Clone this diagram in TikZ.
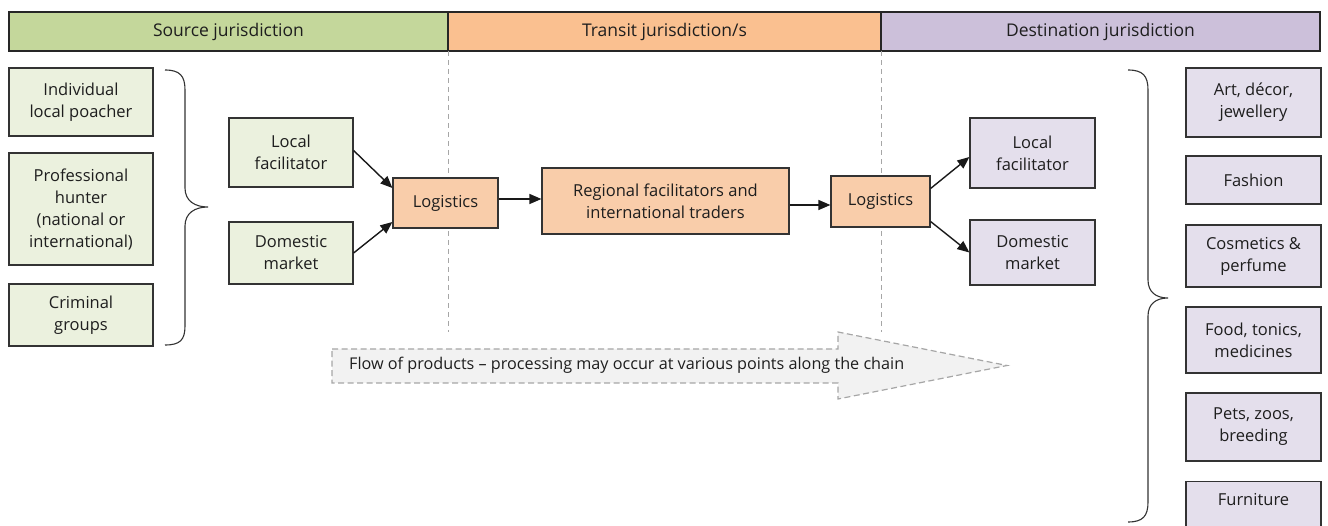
\documentclass[tikz,border=0pt]{standalone}
\usepackage{fontspec}
\setmainfont{Open Sans}
\usetikzlibrary{arrows.meta}
\definecolor{hgreen}{HTML}{C4D79B}
\definecolor{horange}{HTML}{FAC090}
\definecolor{hpurple}{HTML}{CCC0DA}
\definecolor{bgreen}{HTML}{EBF1DE}
\definecolor{borange}{HTML}{F9CDAA}
\definecolor{bpurple}{HTML}{E4DFEC}
\definecolor{txt}{HTML}{1E1E1E}
\definecolor{dashgray}{HTML}{A6A6A6}
\definecolor{flowfill}{HTML}{F2F2F2}
\tikzset{
  x=1pt, y=-1pt,
  hdr/.style={draw=black!85, line width=1.2pt, minimum height=39pt, inner sep=0pt, text=txt,
    font=\fontsize{17.5}{20}\selectfont},
  box/.style={draw=black!80, line width=1.2pt, inner sep=0pt, align=center, text=txt,
    font=\fontsize{16.5}{22}\selectfont},
  gbox/.style={box, fill=bgreen},
  obox/.style={box, fill=borange},
  pbox/.style={box, fill=bpurple},
  conn/.style={line width=1.4pt, black!90, -{Triangle[length=12pt,width=10pt]}},
  sep/.style={dashgray, line width=0.8pt, dash pattern=on 5pt off 4pt},
  brace/.style={black!80, line width=1.1pt},
}
\begin{document}
\begin{tikzpicture}
\clip (0,0) rectangle (1328,526);
\useasboundingbox (0,0) rectangle (1328,526);

% header
\node[hdr, fill=hgreen, minimum width=439pt] (hsrc) at (228.5,31.5) {Source jurisdiction};
\node[hdr, fill=horange, minimum width=433pt] (htr) at (664.5,31.5) {Transit jurisdiction/s};
\node[hdr, fill=hpurple, minimum width=439pt] (hdst) at (1100.5,31.5) {Destination jurisdiction};

% separators
\coordinate (s1top) at (448,51);
\coordinate (s1bot) at (448,332);
\coordinate (s2top) at (881,51);
\coordinate (s2bot) at (881,332);
\draw[sep] (s1top) -- (s1bot);
\draw[sep] (s2top) -- (s2bot);

% flow arrow
\draw[dashgray, fill=flowfill, line width=1.2pt, dash pattern=on 6pt off 3.5pt]
  (332,349) -- (838,349) -- (838,332) -- (1007,365.5) -- (838,399) -- (838,383) -- (332,383) -- cycle;
\node[anchor=west, text=txt, inner sep=0pt, font=\fontsize{16.2}{18}\selectfont] (flow) at (349,365.5)
  {Flow of products -- processing may occur at various points along the chain};

% source boxes
\node[gbox, minimum width=144pt, minimum height=68pt] (poach) at (81,102) {Individual\\local poacher};
\node[gbox, minimum width=144pt, minimum height=112pt] (hunt) at (81,209) {Professional\\hunter\\(national or\\international)};
\node[gbox, minimum width=144pt, minimum height=62pt] (crim) at (81,315) {Criminal\\groups};

\draw[brace] (165,70) .. controls (180,70) and (185,76) .. (185,90) -- (185,188)
  .. controls (185,201) and (195,207) .. (208,207)
  .. controls (195,207) and (185,213) .. (185,226) -- (185,326)
  .. controls (185,340) and (180,345) .. (165,345);

\node[gbox, minimum width=124pt, minimum height=69pt] (lf1) at (291,152.5) {Local\\facilitator};
\node[gbox, minimum width=124pt, minimum height=62pt] (dm1) at (291,253) {Domestic\\market};

\node[obox, minimum width=105pt, minimum height=50pt] (log1) at (445.5,203) {Logistics};
\node[obox, minimum width=247pt, minimum height=66pt] (reg) at (665.5,201) {Regional facilitators and\\international traders};
\node[obox, minimum width=99pt, minimum height=51pt] (log2) at (880.5,201.5) {Logistics};

\node[pbox, minimum width=125pt, minimum height=70pt] (lf2) at (1032.5,153) {Local\\facilitator};
\node[pbox, minimum width=125pt, minimum height=65pt] (dm2) at (1032.5,252.5) {Domestic\\market};

\draw[conn] ([yshift=2pt]lf1.east) -- ([yshift=15pt]log1.west);
\draw[conn] (dm1.east) -- ([yshift=-19pt]log1.west);
\draw[conn] ([yshift=4pt]log1.east) -- ([yshift=4pt]log1.east -| reg.west);
\draw[conn] ([yshift=-4pt]reg.east) -- ([yshift=-4pt]reg.east -| log2.west);
\draw[conn] ([yshift=13pt]log2.east) -- ([yshift=-4pt]lf2.west);
\draw[conn] ([yshift=-20pt]log2.east) -- (dm2.west);

% destination products
\draw[brace] (1128,70) .. controls (1143,70) and (1148,76) .. (1148,90) -- (1148,280)
  .. controls (1148,292) and (1156,298) .. (1168,298)
  .. controls (1156,298) and (1148,304) .. (1148,316) -- (1148,502)
  .. controls (1148,516) and (1143,522) .. (1128,522);

\node[pbox, minimum width=135pt, minimum height=69pt] (art) at (1253.5,102.5) {Art, décor,\\jewellery};
\node[pbox, minimum width=135pt, minimum height=48pt] (fash) at (1253.5,180) {Fashion};
\node[pbox, minimum width=135pt, minimum height=62pt] (cosm) at (1253.5,256) {Cosmetics \&\\perfume};
\node[pbox, minimum width=135pt, minimum height=66pt] (food) at (1253.5,340) {Food, tonics,\\medicines};
\node[pbox, minimum width=135pt, minimum height=68pt] (pets) at (1253.5,427) {Pets, zoos,\\breeding};
\node[pbox, minimum width=135pt, anchor=north, inner ysep=12pt, text height=12pt, text depth=50pt] (furn) at (1253.5,481) {Furniture};
\end{tikzpicture}
\end{document}
